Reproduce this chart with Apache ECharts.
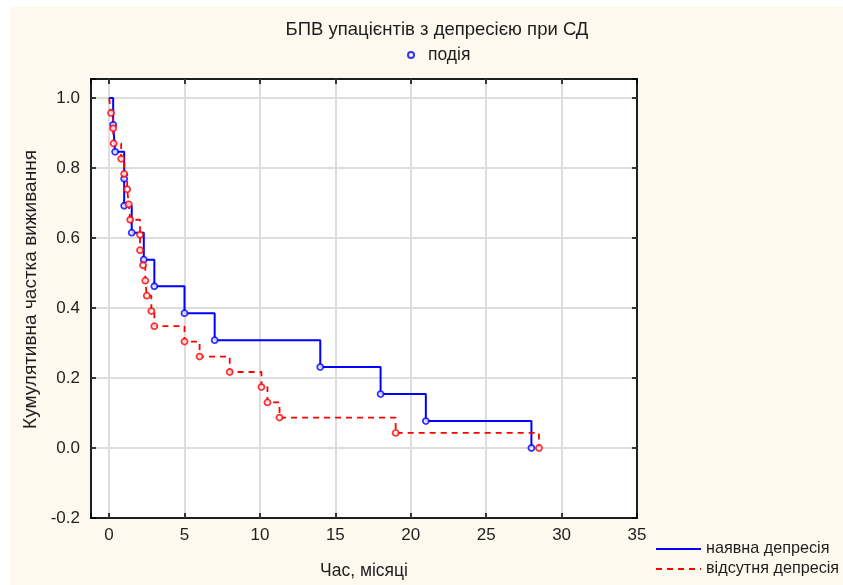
<!DOCTYPE html>
<html>
<head>
<meta charset="utf-8">
<script src="https://cdn.jsdelivr.net/npm/echarts@6/dist/echarts.min.js"></script>
<style>
  html, body { margin: 0; padding: 0; background: #ffffff; }
  #paper { position: absolute; left: 10px; top: 6px; right: 0; bottom: 0; background: #fef9ee; }
  #chart { position: absolute; left: 0; top: 0; width: 843px; height: 585px; }
</style>
</head>
<body>
<div id="paper"></div>
<div id="chart"></div>
<script>
// Kaplan–Meier estimates: event times (months) and cumulative survival after each event
const depTime   = [0, 0.27, 0.4, 1.0, 1.0, 1.5, 2.3, 3.0, 5.0, 7.0, 14.0, 18.0, 21.0, 28.0];
const depSurv   = [1, 0.923, 0.846, 0.769, 0.692, 0.615, 0.538, 0.462, 0.385, 0.308, 0.231, 0.154, 0.077, 0];

const noDepTime = [0, 0.13, 0.27, 0.3, 0.8, 1.0, 1.2, 1.3, 1.4, 2.05, 2.05, 2.25, 2.4, 2.5, 2.8, 3.0, 5.0, 6.0, 8.0, 10.1, 10.5, 11.3, 19.0, 28.5];
const noDepSurv = [1, 0.957, 0.913, 0.870, 0.826, 0.783, 0.739, 0.696, 0.652, 0.609, 0.565, 0.522, 0.478, 0.435, 0.391, 0.348, 0.304, 0.261, 0.217, 0.174, 0.130, 0.087, 0.043, 0];

// Axis tick values
const xTicks = [0, 5, 10, 15, 20, 25, 30, 35];
const yTicks = [-0.2, 0.0, 0.2, 0.4, 0.6, 0.8, 1.0];

const titleText  = 'БПВ упацієнтів з депресією при СД';
const eventName  = 'подія';
const depName    = 'наявна депресія';
const noDepName  = 'відсутня депресія';
const xName      = 'Час, місяці';
const yName      = 'Кумулятивна частка виживання';

const BLUE = '#0000ff';
const RED = '#ff0000';
const INK = '#1e1e1e';
const FONT = '"Liberation Sans", Arial, sans-serif';

const zip = (t, s) => t.map((v, i) => [v, s[i]]);
const near = (v, list) => list.some(t => Math.abs(t - v) < 1e-6);

const depLine = zip(depTime, depSurv);
const noDepLine = zip(noDepTime, noDepSurv);
// markers sit on every event (skip the starting point)
const depEvents = depLine.slice(1);
const noDepEvents = noDepLine.slice(1);

const chart = echarts.init(document.getElementById('chart'), null, { renderer: 'canvas' });

const tickCommon = { show: true, inside: true, length: 5, lineStyle: { color: '#000000', width: 1.5 } };
const gridLine = { show: true, showMinLine: false, showMaxLine: false, lineStyle: { color: '#dddddd', width: 2 } };

const xBase = {
  type: 'value', min: -1.2, max: 35, minInterval: 5, maxInterval: 5,
  axisLine: { show: false, onZero: false },
  axisTick: tickCommon
};
const yBase = {
  type: 'value', min: -0.2, max: 1.054, interval: 0.2,
  axisLine: { show: false, onZero: false },
  axisTick: tickCommon
};

chart.setOption({
  backgroundColor: 'transparent',
  animation: false,
  textStyle: { fontFamily: FONT },
  title: {
    text: titleText,
    left: 432, top: 15, textAlign: 'center',
    textStyle: { fontFamily: FONT, fontSize: 18.5, fontWeight: 'normal', color: INK }
  },
  legend: [
    {
      data: [eventName],
      left: 407, top: 46, padding: 0,
      itemWidth: 6, itemHeight: 6,
      textStyle: { fontFamily: FONT, fontSize: 17.5, color: INK, padding: [0, 0, 0, 9] },
      selectedMode: false
    },
    {
      data: [depName, noDepName],
      orient: 'vertical',
      left: 655, top: 541, padding: 0, height: 44,
      itemWidth: 45, itemHeight: 12, itemGap: 4,
      itemStyle: { color: 'transparent', borderWidth: 0, opacity: 0 },
      textStyle: { fontFamily: FONT, fontSize: 16.2, color: INK },
      selectedMode: false
    }
  ],
  grid: {
    left: 91, top: 79, width: 546, height: 441,
    show: true, backgroundColor: '#ffffff',
    borderColor: INK, borderWidth: 2
  },
  xAxis: [
    Object.assign({}, xBase, {
      position: 'bottom',
      name: xName, nameLocation: 'middle', nameGap: 44,
      nameTextStyle: { fontFamily: FONT, fontSize: 17.5, color: INK },
      axisLabel: {
        fontFamily: FONT, fontSize: 17, color: INK, margin: 9,
        formatter: v => near(v, xTicks) ? String(Math.round(v)) : ''
      },
      splitLine: gridLine
    }),
    Object.assign({}, xBase, {
      position: 'top',
      axisLabel: { show: false },
      splitLine: { show: false }
    })
  ],
  yAxis: [
    Object.assign({}, yBase, {
      position: 'left',
      name: yName, nameLocation: 'middle', nameGap: 47,
      nameTextStyle: { fontFamily: FONT, fontSize: 19, color: INK, padding: [0, 0, 0, 18] },
      axisLabel: {
        fontFamily: FONT, fontSize: 17, color: INK, margin: 11,
        formatter: v => near(v, yTicks) ? v.toFixed(1) : ''
      },
      splitLine: gridLine
    }),
    Object.assign({}, yBase, {
      position: 'right',
      axisLabel: { show: false },
      splitLine: { show: false }
    })
  ],
  series: [
    {
      name: depName, type: 'line', step: 'end', data: depLine,
      symbol: 'none', xAxisIndex: 0, yAxisIndex: 0,
      lineStyle: { color: BLUE, width: 2 }, itemStyle: { color: BLUE }, z: 3
    },
    {
      name: noDepName, type: 'line', step: 'end', data: noDepLine,
      symbol: 'none', xAxisIndex: 0, yAxisIndex: 0,
      lineStyle: { color: RED, width: 1.8, type: [6, 5] }, itemStyle: { color: RED }, z: 3
    },
    {
      name: eventName, type: 'scatter', data: depEvents,
      symbol: 'circle', symbolSize: 6,
      itemStyle: { color: '#ffffff', borderColor: BLUE, borderWidth: 1.8 }, z: 4
    },
    {
      name: eventName + ' ', type: 'scatter', data: noDepEvents,
      symbol: 'circle', symbolSize: 6,
      itemStyle: { color: '#ffffff', borderColor: RED, borderWidth: 1.8 }, z: 4
    }
  ]
});
</script>
</body>
</html>
